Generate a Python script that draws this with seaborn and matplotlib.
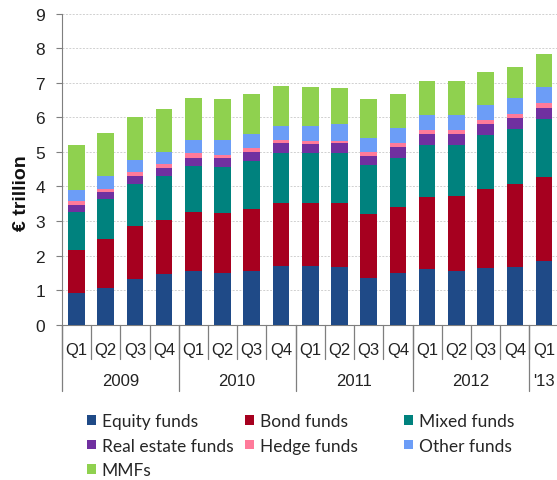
import numpy as np
import pandas as pd
import matplotlib
matplotlib.use("Agg")
import matplotlib.pyplot as plt
import matplotlib.transforms as mtransforms
from matplotlib.patches import Patch
import seaborn as sns

# Quarterly periods and year groups
quarters = ["Q1", "Q2", "Q3", "Q4"] * 4 + ["Q1"]
years = ["2009", "2010", "2011", "2012", "'13"]
year_sizes = [4, 4, 4, 4, 1]

# Values in EUR trillion
equity = [0.91, 1.07, 1.32, 1.46, 1.54, 1.49, 1.54, 1.70, 1.71, 1.68, 1.36, 1.49, 1.61, 1.55, 1.65, 1.68, 1.83]
bond = [1.25, 1.42, 1.53, 1.57, 1.71, 1.73, 1.81, 1.83, 1.80, 1.83, 1.83, 1.92, 2.09, 2.18, 2.28, 2.39, 2.45]
mixed = [1.09, 1.14, 1.21, 1.27, 1.33, 1.33, 1.39, 1.44, 1.46, 1.46, 1.42, 1.41, 1.51, 1.48, 1.56, 1.60, 1.67]
real_estate = [0.22, 0.20, 0.25, 0.24, 0.25, 0.27, 0.25, 0.29, 0.25, 0.28, 0.27, 0.32, 0.32, 0.32, 0.31, 0.31, 0.33]
hedge = [0.12, 0.09, 0.10, 0.10, 0.13, 0.10, 0.13, 0.09, 0.10, 0.07, 0.12, 0.13, 0.11, 0.11, 0.11, 0.12, 0.13]
other = [0.31, 0.37, 0.35, 0.35, 0.38, 0.42, 0.41, 0.41, 0.44, 0.48, 0.41, 0.41, 0.43, 0.44, 0.44, 0.45, 0.48]
mmf = [1.31, 1.27, 1.26, 1.25, 1.23, 1.19, 1.15, 1.15, 1.13, 1.06, 1.13, 1.01, 0.98, 0.97, 0.96, 0.91, 0.93]

series = ["Equity funds", "Bond funds", "Mixed funds", "Real estate funds",
          "Hedge funds", "Other funds", "MMFs"]
colors = ["#1F4A87", "#A6001F", "#00827E", "#7030A0", "#FF7A9A", "#6C9DF7", "#8FD14F"]

periods = [f"{q}-{i}" for i, q in enumerate(quarters)]
df = pd.DataFrame({
    "period": periods,
    "Equity funds": equity,
    "Bond funds": bond,
    "Mixed funds": mixed,
    "Real estate funds": real_estate,
    "Hedge funds": hedge,
    "Other funds": other,
    "MMFs": mmf,
})
cum = df[series].cumsum(axis=1)
cum["period"] = df["period"]

sns.set_style("white")
plt.rcParams["font.family"] = ["Liberation Sans", "DejaVu Sans"]

fig = plt.figure(figsize=(5.57, 4.81), dpi=100)
ax = fig.add_axes([0.111, 0.3229, 0.892, 0.6465])

# Stack by overdrawing cumulative totals, top segment first
for name, col in reversed(list(zip(series, colors))):
    sns.barplot(data=cum, x="period", y=name, color=col, width=0.57,
                saturation=1, ax=ax, zorder=3, linewidth=0)

ax.set_xlim(-0.5, len(periods) - 0.5)
ax.set_ylim(0, 9)
ax.set_yticks(range(10))
ax.yaxis.grid(True, linestyle=(0, (2, 1.5)), color="#D0D0D0", linewidth=0.7, zorder=0)
ax.set_axisbelow(True)
for s in ["top", "right"]:
    ax.spines[s].set_visible(False)
ax.spines["left"].set_color("#7F7F7F")
ax.spines["bottom"].set_color("#7F7F7F")
ax.tick_params(axis="y", length=4, width=0.8, color="#7F7F7F", labelsize=12.5, pad=8,
               left=True, labelcolor="#222222")
ax.set_xticks([])
ax.set_xlabel("")
ax.set_ylabel("")
fig.text(0.038, 1 - 193 / 481, "€ trillion", rotation=90, fontsize=14,
         fontweight="bold", ha="center", va="center", color="#111111")

# Two-level category axis below the plot
trans = mtransforms.blended_transform_factory(ax.transData, fig.transFigure)
y_axis = 1 - 325.7 / 481
y_q_end = 1 - 360 / 481
y_yr_end = 1 - 392 / 481
for i, q in enumerate(quarters):
    ax.text(i, 1 - 350 / 481, q, transform=trans, ha="center", va="center",
            fontsize=12, color="#222222")
for i in range(len(quarters) + 1):
    ax.plot([i - 0.5, i - 0.5], [y_axis, y_q_end], transform=trans, color="#7F7F7F",
            linewidth=0.9, clip_on=False)
start = 0
for yr, n in zip(years, year_sizes):
    ax.text(start + n / 2 - 0.5, 1 - 382 / 481, yr, transform=trans, ha="center",
            va="center", fontsize=12, color="#222222")
    ax.plot([start - 0.5, start - 0.5], [y_axis, y_yr_end], transform=trans,
            color="#7F7F7F", linewidth=0.9, clip_on=False)
    start += n
ax.plot([start - 0.5, start - 0.5], [y_axis, y_yr_end], transform=trans,
        color="#7F7F7F", linewidth=0.9, clip_on=False)

# Legend laid out row by row in three columns
col_x = [87 / 557, 245 / 557, 404 / 557]
for c in range(3):
    idx = list(range(c, len(series), 3))
    handles = [Patch(facecolor=colors[i], edgecolor="none") for i in idx]
    fig.legend(handles, [series[i] for i in idx], ncol=1, loc="upper left",
               bbox_to_anchor=(col_x[c], 1 - 414 / 481), frameon=False,
               prop={"family": "Lato", "size": 12.5}, labelcolor="#262626",
               handlelength=0.5, handleheight=0.5, handletextpad=0.35,
               labelspacing=0.5, borderaxespad=0, borderpad=0)

fig.savefig("out.png", dpi=100)
